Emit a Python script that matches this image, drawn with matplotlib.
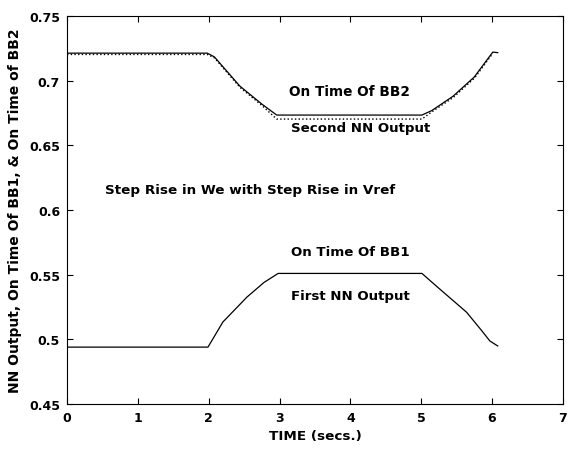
import numpy as np
import matplotlib.pyplot as plt

plt.rcParams['font.family'] = ['DejaVu Sans']
plt.rcParams['font.weight'] = 'bold'

# On Time Of BB2 (solid) and Second NN Output (dotted)
t_bb2 = [0.0, 1.98, 2.08, 2.44, 2.75, 2.96, 5.01, 5.15, 5.45, 5.75, 6.01, 6.08]
bb2 = [0.7214, 0.7214, 0.7185, 0.6959, 0.682, 0.6735, 0.6735, 0.677, 0.6881, 0.703, 0.7222, 0.7218]
t_nn2 = [0.0, 1.98, 2.08, 2.44, 2.75, 2.96, 5.01, 5.15, 5.45, 5.75, 6.01]
nn2 = [0.7204, 0.7204, 0.7178, 0.695, 0.681, 0.6704, 0.6704, 0.676, 0.687, 0.702, 0.7212]

# On Time Of BB1 (solid, First NN Output lies on top of it)
t_bb1 = [0.0, 1.99, 2.20, 2.54, 2.78, 2.98, 5.01, 5.26, 5.64, 5.85, 5.97, 6.08]
bb1 = [0.494, 0.494, 0.5134, 0.5327, 0.544, 0.551, 0.551, 0.539, 0.521, 0.507, 0.4987, 0.4949]

fig = plt.figure(figsize=(5.68, 4.52), dpi=100)
ax = fig.add_axes([0.118, 0.104, 0.873, 0.858])

ax.plot(t_bb2, bb2, color='black', lw=0.9)
ax.plot(t_nn2, nn2, color='black', lw=1.0, ls=':')
ax.plot(t_bb1, bb1, color='black', lw=0.9)

ax.set_xlim(0, 7)
ax.set_ylim(0.45, 0.75)
ax.set_xticks(range(0, 8))
ax.set_yticks([0.45, 0.5, 0.55, 0.6, 0.65, 0.7, 0.75])
ax.set_yticklabels(['0.45', '0.5', '0.55', '0.6', '0.65', '0.7', '0.75'])
ax.tick_params(direction='in', top=True, right=True, labelsize=9, length=4, pad=5)

ax.set_xlabel('TIME (secs.)', fontsize=9.7, fontweight='bold', labelpad=4)
ax.set_ylabel('NN Output, On Time Of BB1, & On Time of BB2', fontsize=10,
              fontweight='bold', labelpad=5)

ax.text(3.99, 0.692, 'On Time Of BB2', ha='center', va='center', fontsize=9.8)
ax.text(4.15, 0.6642, 'Second NN Output', ha='center', va='center', fontsize=9.6)
ax.text(0.536, 0.6162, 'Step Rise in We with Step Rise in Vref', ha='left', va='center', fontsize=9.7)
ax.text(4.0, 0.568, 'On Time Of BB1', ha='center', va='center', fontsize=9.6)
ax.text(4.0, 0.534, 'First NN Output', ha='center', va='center', fontsize=9.6)

plt.savefig('out.png')
